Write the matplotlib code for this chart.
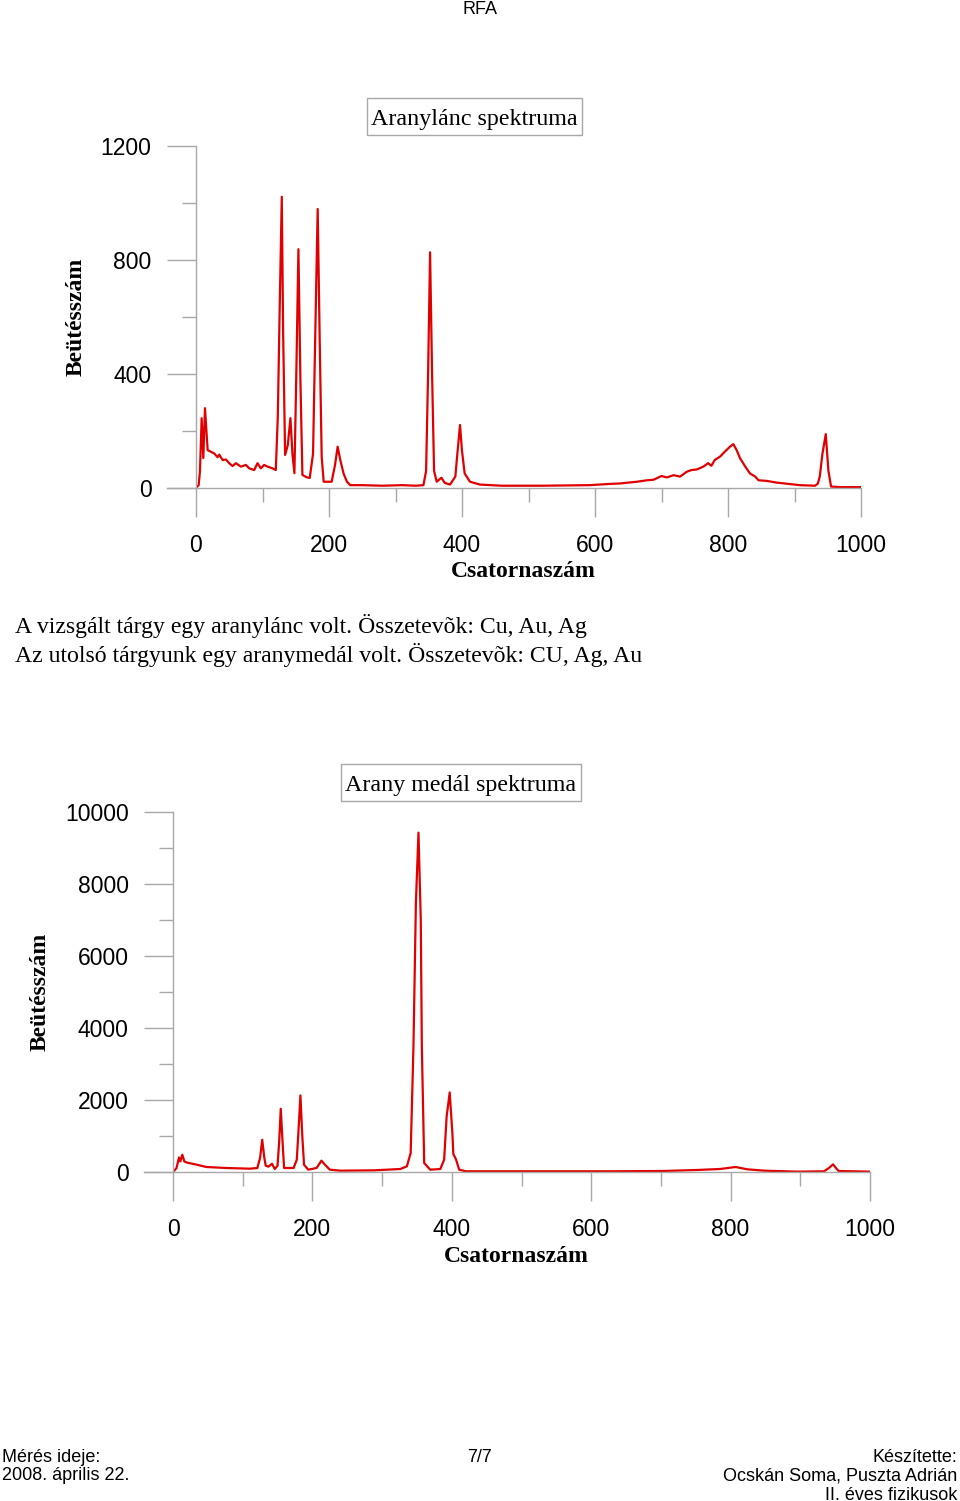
import matplotlib.pyplot as plt
from matplotlib.patches import Rectangle

# spectrum 1: aranylánc (gold chain)
chain_channel = [
    0, 4, 6, 8.5, 11, 13.5, 17.5, 22.5, 27.5, 32.5,
    35, 40, 45, 50, 55, 60, 67.5, 75, 80, 87.5,
    92.5, 97.5, 102.5, 107.5, 115, 120, 123, 126, 129, 131,
    134, 138, 142, 145, 148, 151, 154, 157, 160, 166,
    171, 176, 180, 183, 186, 189, 192, 198, 204, 209,
    213, 217, 222, 227, 232, 250, 280, 310, 330, 342,
    346, 349, 352, 355, 358, 362, 365, 369, 374, 382,
    390, 393, 397, 400, 404, 412, 427, 460, 520, 592,
    620, 638, 663, 678, 688, 700, 708, 718, 728, 738,
    745, 753, 763, 770, 775, 780, 788, 795, 803, 808,
    813, 818, 826, 833, 841, 846, 858, 873, 908, 931,
    935, 938, 942, 947, 951, 955, 970, 1000,
]
chain_counts = [
    0, 10, 60, 245, 105, 280, 133, 127, 121, 108,
    117, 98, 100, 87, 77, 87, 75, 81, 69, 63,
    87, 69, 81, 75, 69, 63, 250, 650, 1022, 550,
    116, 150, 245, 120, 52, 420, 838, 380, 46, 38,
    35, 120, 620, 979, 520, 110, 22, 22, 22, 80,
    145, 98, 50, 22, 10, 10, 8, 10, 8, 10,
    60, 400, 827, 400, 60, 22, 28, 36, 18, 12,
    40, 120, 221, 130, 51, 22, 12, 8, 8, 10,
    14, 16, 22, 27, 29, 42, 37, 45, 40, 57,
    63, 65, 75, 87, 78, 98, 110, 127, 145, 154,
    133, 105, 75, 51, 40, 27, 25, 19, 10, 8,
    15, 40, 120, 189, 60, 5, 3, 3,
]

# spectrum 2: arany medál (gold medal)
medal_channel = [
    0, 5, 8.6, 10.5, 13.4, 16.3, 19.7, 34, 48, 77,
    110, 121, 125, 128, 131, 133, 137, 142, 146, 150,
    152.5, 154.6, 157, 159.4, 173, 177.6, 180.5, 182.8, 185.5, 188,
    194, 206, 213, 218, 225, 240, 288, 326, 335.5, 341,
    345, 348.5, 352.2, 355.5, 357, 360.4, 369, 383.5, 389, 392.6,
    397, 400.8, 402.2, 406, 410.6, 420, 632, 703, 752, 785,
    807, 824, 848, 896, 934, 941, 947, 952, 955, 1000,
]
medal_counts = [
    0, 108, 405, 292, 480, 292, 264, 203, 139, 111,
    92, 111, 400, 897, 400, 176, 148, 231, 83, 176,
    900, 1759, 900, 111, 111, 342, 1300, 2130, 1000, 203,
    65, 111, 315, 203, 65, 37, 46, 83, 157, 527,
    3500, 7500, 9440, 7000, 3500, 250, 65, 83, 342, 1546,
    2213, 1083, 500, 352, 65, 20, 20, 28, 56, 84,
    139, 75, 37, 10, 19, 110, 213, 90, 28, 10,
]

W, H = 960, 1501
def fx(px):
    return px / W
def fy(py):
    return 1 - py / H

gray = '#a8a8a8'
red = '#e00000'
serif = 'Liberation Serif'
sans = 'Liberation Sans'

fig = plt.figure(figsize=(9.6, 15.01), dpi=100)


def spectrum(x0, x1, y0, y1, ymax, ystep, xs, ys, title, box, ylab_x, xlab_y):
    ax = fig.add_axes([fx(x0), fy(y0), (x1 - x0) / W, (y0 - y1) / H])
    ax.plot(xs, ys, color=red, lw=1.6)
    ax.set_xlim(0, 1000)
    ax.set_ylim(0, ymax)
    ax.spines['top'].set_visible(False)
    ax.spines['right'].set_visible(False)
    for s in ['left', 'bottom']:
        ax.spines[s].set_color(gray)
        ax.spines[s].set_linewidth(1)
    ax.spines['bottom'].set_bounds(-29 / ((x1 - x0) / 1000), 1000)
    ax.set_xticks(range(0, 1001, 200))
    ax.set_xticks(range(100, 1000, 200), minor=True)
    ax.set_yticks(range(0, ymax + 1, ystep))
    ax.set_yticks(range(ystep // 2, ymax, ystep), minor=True)
    ax.tick_params(which='major', length=21, width=1, color=gray, labelsize=16.5)
    ax.tick_params(which='minor', length=10, width=1, color=gray)
    ax.tick_params(axis='x', which='major', pad=12)
    ax.tick_params(axis='y', which='major', pad=11)
    for lab in ax.get_xticklabels() + ax.get_yticklabels():
        lab.set_family(sans)

    bx0, bx1, by0, by1 = box
    fig.patches.append(Rectangle((fx(bx0), fy(by1)), (bx1 - bx0) / W, (by1 - by0) / H,
                                 transform=fig.transFigure, fc='white', ec=gray, lw=1))
    fig.text(fx((bx0 + bx1) / 2), fy((by0 + by1) / 2 + 2.5), title, ha='center', va='center',
             family=serif, size=17.3)
    fig.text(fx(ylab_x), fy((y0 + y1) / 2), 'Beütésszám', rotation=90, ha='center',
             va='center', family=serif, weight='bold', size=17)
    fig.text(fx((x0 + x1) / 2 - 5), fy(xlab_y), 'Csatornaszám', ha='center', va='center',
             family=serif, weight='bold', size=17)
    return ax


spectrum(196, 861, 488, 146, 1200, 400, chain_channel, chain_counts,
         'Aranylánc spektruma', (367, 582, 98, 135), 76, 571)
spectrum(173, 870, 1172, 812.5, 10000, 2000, medal_channel, medal_counts,
         'Arany medál spektruma', (341, 581, 764, 801), 40, 1256)

fig.text(0.5, fy(1), 'RFA', ha='center', va='top', family=sans, size=13)
fig.text(fx(15), fy(626), 'A vizsgált tárgy egy aranylánc volt. Összetevõk: Cu, Au, Ag',
         ha='left', va='center', family=serif, size=17.15)
fig.text(fx(15), fy(655), 'Az utolsó tárgyunk egy aranymedál volt. Összetevõk: CU, Ag, Au',
         ha='left', va='center', family=serif, size=17.15)

fig.text(fx(2), fy(1457), 'Mérés ideje:', ha='left', va='center', family=sans, size=13)
fig.text(fx(2), fy(1476), '2008. április 22.', ha='left', va='center', family=sans, size=13)
fig.text(fx(480), fy(1457), '7/7', ha='center', va='center', family=sans, size=13)
fig.text(fx(957), fy(1457), 'Készítette:', ha='right', va='center', family=sans, size=13)
fig.text(fx(957), fy(1476), 'Ocskán Soma, Puszta Adrián', ha='right', va='center',
         family=sans, size=13)
fig.text(fx(957), fy(1495), 'II. éves fizikusok', ha='right', va='center', family=sans, size=13)

fig.savefig('out.png', dpi=100)
